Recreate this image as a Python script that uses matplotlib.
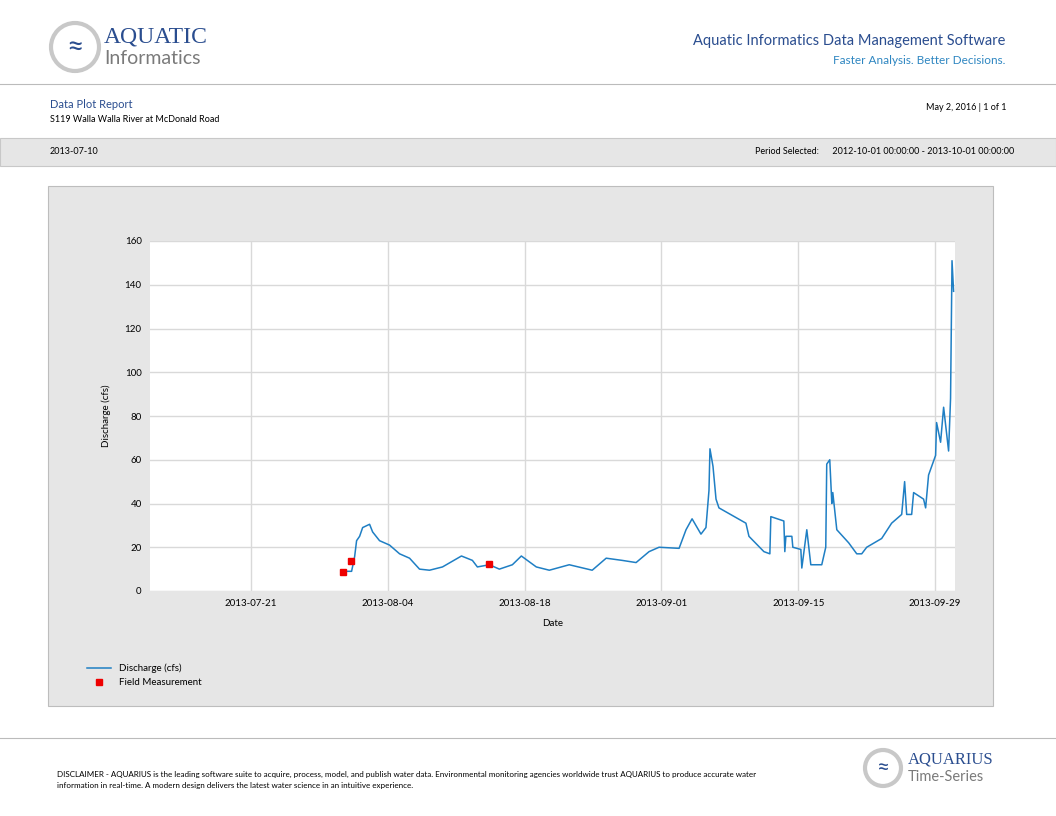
import numpy as np
import matplotlib
matplotlib.use("Agg")
import matplotlib.pyplot as plt
import matplotlib.dates as mdates
from matplotlib.patches import Rectangle, Ellipse
import datetime as dt

plt.rcParams['font.family'] = ['Lato', 'DejaVu Sans']

# discharge trace: day offsets from the left edge of the plot (2013-07-10 16:00), values in cfs
start = dt.datetime(2013, 7, 10, 16)
days = [19.71, 20.63, 20.94, 21.14, 21.45, 21.76, 22.47, 22.78, 23.49, 24.51, 25.54, 26.56,
        27.58, 28.60, 29.93, 31.87, 32.99, 33.50, 34.73, 35.75, 37.08, 38.00, 39.53, 40.86,
        42.90, 45.25, 46.68, 48.31, 49.74, 51.07, 52.09, 54.14, 54.85, 55.47, 56.38, 56.89,
        57.20, 57.30, 57.61, 57.92, 58.22, 60.98, 61.29, 62.82, 63.43, 63.53, 64.86, 64.96,
        65.07, 65.68, 65.78, 66.60, 66.70, 67.21, 67.62, 68.74, 69.15, 69.25, 69.56, 69.77,
        69.87, 70.28, 71.50, 72.32, 72.83, 73.34, 74.87, 75.89, 76.92, 77.22, 77.43, 77.94,
        78.14, 79.16, 79.37, 79.67, 80.39, 80.49, 80.90, 81.21, 81.72, 81.92, 82.07, 82.23]
flow = [9, 9, 15.7, 23, 25, 29, 30.5, 27, 23, 21, 17, 15,
        10, 9.5, 11, 16, 14, 11, 12, 10, 12, 16, 11, 9.5,
        12, 9.5, 15, 14, 13, 18, 20, 19.5, 28, 33, 26, 29,
        46, 65, 57, 42, 38, 31, 25, 18, 17, 34, 32, 18,
        25, 25, 20, 19, 10.5, 28, 12, 12, 20, 58, 60, 40,
        45, 28, 22, 17, 17, 20, 24, 31, 35, 50, 35, 35,
        45, 42, 38, 53, 62, 77, 68, 84, 64, 88, 151, 137]
meas_days = [19.7, 20.6, 34.7]
meas_vals = [8.5, 13.7, 12.3]

t = [start + dt.timedelta(days=d) for d in days]
tm = [start + dt.timedelta(days=d) for d in meas_days]

W, H = 1056, 816
fig = plt.figure(figsize=(W / 100, H / 100), dpi=100)

def fx(x): return x / W
def fy(y): return 1 - y / H

# header
for cx, cy, r in [(75, 47, 24), (883, 768, 18)]:
    fig.patches.append(Ellipse((fx(cx), fy(cy)), 2 * r / W, 2 * r / H, transform=fig.transFigure,
                               facecolor='white', edgecolor='#c8c8c8', lw=3))
    fig.text(fx(cx), fy(cy), '≈', color='#2a4d8f', fontsize=r * 0.9, ha='center', va='center')
fig.text(fx(104), fy(37), 'AQUATIC', color='#2a4d8f', fontsize=17, va='center', family='Liberation Serif')
fig.text(fx(104), fy(59), 'Informatics', color='#7a7a7a', fontsize=14, va='center')
fig.text(fx(908), fy(760), 'AQUARIUS', color='#2a4d8f', fontsize=12, va='center', family='Liberation Serif')
fig.text(fx(908), fy(777), 'Time-Series', color='#7a7a7a', fontsize=10.5, va='center')
fig.text(fx(1005), fy(41), 'Aquatic Informatics Data Management Software', color='#2a4d8f',
         fontsize=10.5, ha='right', va='center')
fig.text(fx(1005), fy(60), 'Faster Analysis. Better Decisions.', color='#2e86c1',
         fontsize=8.5, ha='right', va='center')
fig.add_artist(plt.Line2D([0, 1], [fy(84), fy(84)], color='#bbbbbb', lw=0.8))
fig.text(fx(50), fy(104), 'Data Plot Report', color='#2a4d8f', fontsize=8, va='center')
fig.text(fx(50), fy(119), 'S119 Walla Walla River at McDonald Road', fontsize=6.5, va='center')
fig.text(fx(1006), fy(107), 'May 2, 2016 | 1 of 1', fontsize=6.5, ha='right', va='center')

fig.patches.append(Rectangle((0, fy(166)), 1, (166 - 138) / H, transform=fig.transFigure,
                             facecolor='#e6e6e6', edgecolor='#c8c8c8', lw=0.8, zorder=-2))
fig.text(fx(50), fy(152), '2013-07-10', fontsize=6.5, va='center')
fig.text(fx(1014), fy(152), 'Period Selected:      2012-10-01 00:00:00 - 2013-10-01 00:00:00',
         fontsize=6.5, ha='right', va='center')

fig.patches.append(Rectangle((fx(48), fy(706)), (993 - 48) / W, (706 - 186) / H,
                             transform=fig.transFigure, facecolor='#e6e6e6',
                             edgecolor='#bdbdbd', lw=0.8, zorder=-2))

# footer
fig.add_artist(plt.Line2D([0, 1], [fy(738), fy(738)], color='#bbbbbb', lw=0.8))
fig.text(fx(57), fy(780), 'DISCLAIMER - AQUARIUS is the leading software suite to acquire, process, model, and publish water data. '
         'Environmental monitoring agencies worldwide trust AQUARIUS to produce accurate water\n'
         'information in real-time. A modern design delivers the latest water science in an intuitive experience.',
         fontsize=5.8, va='center', linespacing=1.6)

# plot
ax = fig.add_axes([fx(150), fy(591), (955 - 150) / W, (591 - 241) / H])
ax.set_facecolor('white')
ax.plot(t, flow, color='#1f7fc4', lw=1.1, label='Discharge (cfs)')
ax.plot(tm, meas_vals, 's', color='#ee0000', ms=5, ls='none', label='Field Measurement')
ax.set_xlim(start, dt.datetime(2013, 10, 1, 1))
ax.set_ylim(0, 160)
ax.set_yticks(range(0, 161, 20))
ax.set_xticks([dt.datetime(2013, 7, 21) + dt.timedelta(days=14 * i) for i in range(6)])
ax.xaxis.set_major_formatter(mdates.DateFormatter('%Y-%m-%d'))
ax.grid(color='#d9d9d9', lw=1)
ax.set_axisbelow(True)
for s in ax.spines.values():
    s.set_visible(False)
ax.tick_params(length=0, labelsize=7, pad=6)
ax.set_xlabel('Date', fontsize=7, labelpad=8)
ax.set_ylabel('Discharge (cfs)', fontsize=7, labelpad=10)
ax.legend(loc='upper left', bbox_to_anchor=(fx(78), fy(655)), bbox_transform=fig.transFigure,
          frameon=False, fontsize=7, handlelength=2.5, labelspacing=0.5)

fig.savefig('out.png', dpi=100)
